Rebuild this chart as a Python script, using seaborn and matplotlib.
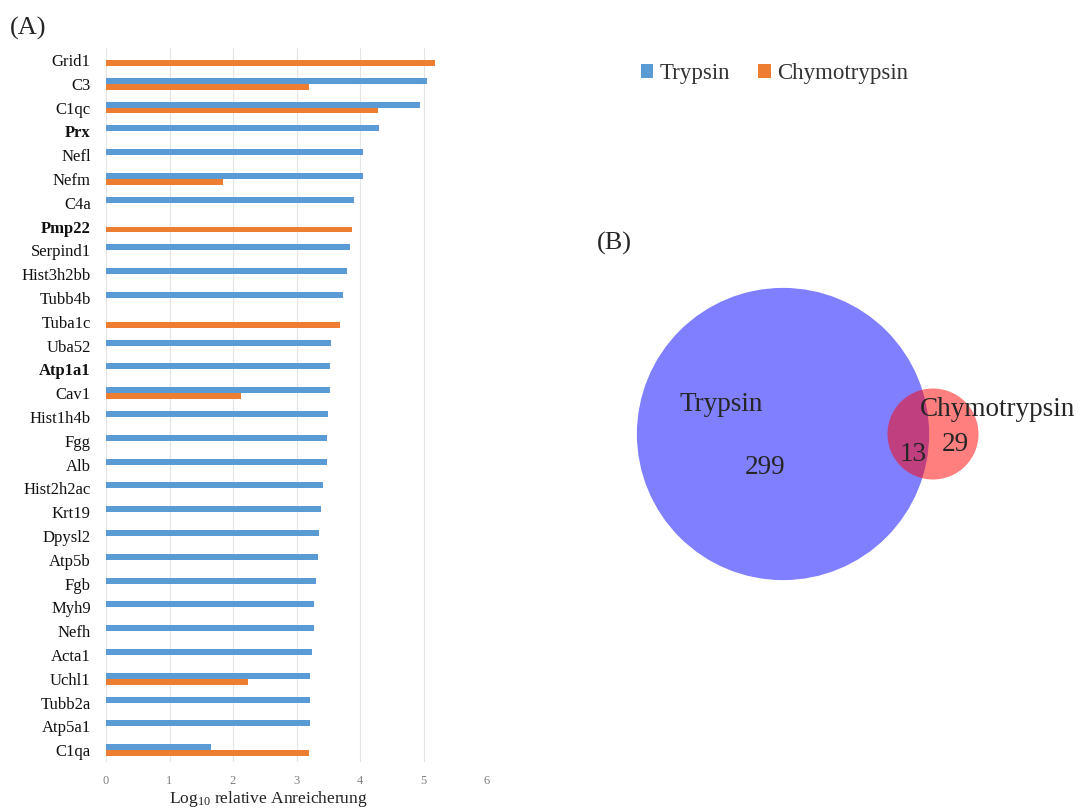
import numpy as np
import pandas as pd
import matplotlib.pyplot as plt
import seaborn as sns
from matplotlib.patches import Circle

# Données (A) : log10 enrichissement relatif
genes = ["Grid1", "C3", "C1qc", "Prx", "Nefl", "Nefm", "C4a", "Pmp22", "Serpind1",
         "Hist3h2bb", "Tubb4b", "Tuba1c", "Uba52", "Atp1a1", "Cav1", "Hist1h4b", "Fgg",
         "Alb", "Hist2h2ac", "Krt19", "Dpysl2", "Atp5b", "Fgb", "Myh9", "Nefh", "Acta1",
         "Uchl1", "Tubb2a", "Atp5a1", "C1qa"]
trypsin = [np.nan, 5.06, 4.94, 4.30, 4.05, 4.05, 3.91, np.nan, 3.84,
           3.79, 3.74, np.nan, 3.55, 3.52, 3.52, 3.50, 3.48,
           3.48, 3.41, 3.38, 3.36, 3.34, 3.30, 3.28, 3.27, 3.25,
           3.22, 3.22, 3.21, 1.66]
chymotrypsin = [5.18, 3.20, 4.29, np.nan, np.nan, 1.85, np.nan, 3.88, np.nan,
                np.nan, np.nan, 3.68, np.nan, np.nan, 2.13, np.nan, np.nan,
                np.nan, np.nan, np.nan, np.nan, np.nan, np.nan, np.nan, np.nan, np.nan,
                2.23, np.nan, np.nan, 3.20]
bold_genes = ["Prx", "Pmp22", "Atp1a1"]
xticks = [0, 1, 2, 3, 4, 5, 6]

# Données (B) : diagramme de Venn
venn_labels = ["Trypsin", "Chymotrypsin"]
only_trypsin = 299
both = 13
only_chymo = 29

colors = {"Trypsin": "#5B9BD5", "Chymotrypsin": "#ED7D31"}

sns.set_theme(style="white")
plt.rcParams['font.family'] = ['Liberation Serif', 'DejaVu Serif']
plt.rcParams['mathtext.default'] = 'regular'

df = pd.DataFrame({"gene": genes * 2,
                   "value": trypsin + chymotrypsin,
                   "enzyme": ["Trypsin"] * len(genes) + ["Chymotrypsin"] * len(genes)})

W, H = 1083, 809
fig = plt.figure(figsize=(W / 100, H / 100), dpi=100)

# Panneau A
ax = fig.add_axes([106 / W, (H - 762) / H, 381 / W, 714 / H])
sns.barplot(data=df, x="value", y="gene", hue="enzyme", order=genes,
            hue_order=["Trypsin", "Chymotrypsin"], palette=colors, orient="h",
            width=0.5, saturation=1, errorbar=None, linewidth=0, ax=ax)
handles, labels = ax.get_legend_handles_labels()
ax.get_legend().remove()
ax.set_xlim(0, 6)
ax.set_xticks(xticks)
ax.grid(axis="x", color="#E4E4E4", linewidth=0.8)
ax.grid(axis="y", visible=False)
for s in ax.spines.values():
    s.set_visible(False)
ax.tick_params(axis="y", length=0, pad=11, labelsize=12, labelcolor="#111111")
ax.tick_params(axis="x", length=0, pad=9, labelsize=9, labelcolor="#808080")
ax.set_ylabel("")
ax.set_xlabel("Log$_{10}$ relative Anreicherung", fontsize=12.5, color="#222222")
ax.xaxis.set_label_coords(0.425, -0.038)
for t in ax.get_yticklabels():
    if t.get_text() in bold_genes:
        t.set_fontweight("bold")

fig.legend(handles, labels, loc="center left", bbox_to_anchor=(620 / W, 1 - 74 / H),
           ncol=2, frameon=False, fontsize=16.5, handlelength=0.55, handleheight=0.55,
           handletextpad=0.3, columnspacing=1.2, labelcolor="#333333")

fig.text(10 / W, 1 - 28 / H, "(A)", fontsize=19, va="center", ha="left")
fig.text(597 / W, 1 - 243 / H, "(B)", fontsize=19, va="center", ha="left")

# Panneau B : Venn (rayons ~ racine des effectifs)
ax2 = fig.add_axes([0, 0, 1, 1])
ax2.set_xlim(0, W)
ax2.set_ylim(H, 0)
ax2.axis("off")
k = 8.45
r1 = k * np.sqrt(only_trypsin)
r2 = k * np.sqrt(only_chymo)
c1 = (783, 434)
c2 = (c1[0] + 150, 434)
ax2.add_patch(Circle(c1, r1, facecolor="#0000FF", alpha=0.5, edgecolor="none"))
ax2.add_patch(Circle(c2, r2, facecolor="#FF0000", alpha=0.5, edgecolor="none"))
ax2.text(c1[0] - 103, c1[1] - 30, venn_labels[0], fontsize=19.5, ha="left", va="center")
ax2.text(c1[0] - 18, c1[1] + 33, str(only_trypsin), fontsize=19.5, ha="center", va="center")
ax2.text(c2[0] - 13, c2[1] - 25, venn_labels[1], fontsize=19.5, ha="left", va="center")
ax2.text(c2[0] - 20, c2[1] + 20, str(both), fontsize=19.5, ha="center", va="center")
ax2.text(c2[0] + 22, c2[1] + 10, str(only_chymo), fontsize=19.5, ha="center", va="center")

fig.savefig("out.png", dpi=100)
